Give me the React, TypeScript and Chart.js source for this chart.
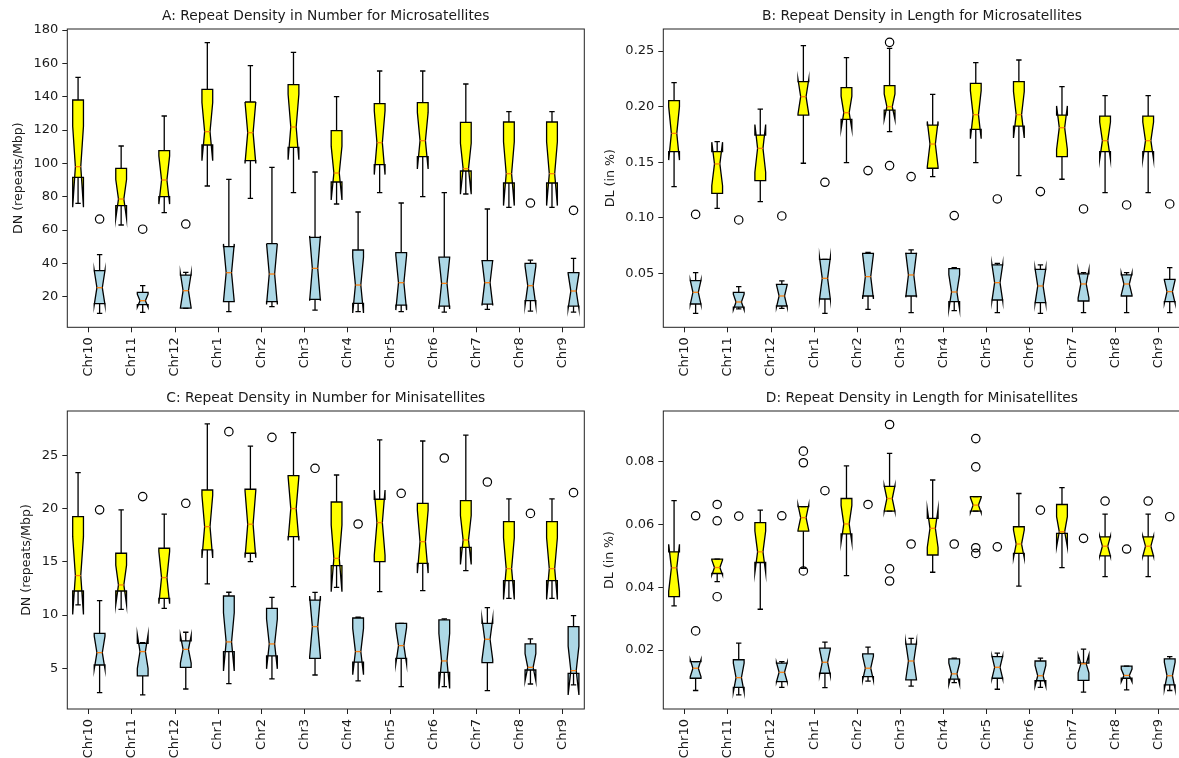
import React, { useEffect, useRef } from "react";
import { Chart, registerables } from "chart.js";

Chart.register(...registerables);

// ---------------------------------------------------------------------------
// Categories and shared settings
// ---------------------------------------------------------------------------
const CHROMOSOMES = ["Chr10", "Chr11", "Chr12", "Chr1", "Chr2", "Chr3", "Chr4", "Chr5", "Chr6", "Chr7", "Chr8", "Chr9"];
const SAMPLES_PER_BOX = 9; // genomes per chromosome, used for the notch width
const BOX_WIDTH = 0.25;
const GROUP_SHIFT = 0.25;
const FONT_FAMILY = "'DejaVu Sans', 'Liberation Sans', sans-serif";
const TEXT_COLOR = "#1a1a1a";
const YELLOW = "#ffff00";
const LIGHT_BLUE = "#add8e6";
const MEDIAN_COLOR = "#ff7f0e";

// ---------------------------------------------------------------------------
// A: repeat density in number, microsatellites (repeats/Mbp)
// ---------------------------------------------------------------------------
const A_TICKS = [20, 40, 60, 80, 100, 120, 140, 160, 180];
const A1_LO = [76, 63, 70.4, 86.4, 79, 82.4, 75.6, 82.4, 80, 81.6, 73.6, 73.6];
const A1_Q1 = [91.6, 74.6, 80, 111, 101.6, 109.6, 88.8, 99.2, 104, 95.4, 88.2, 88.2];
const A1_MED = [98, 78.6, 90, 119, 118.4, 121.8, 94.2, 112.4, 113.6, 96.8, 93.8, 93.8];
const A1_Q3 = [138, 97, 107.6, 144.4, 136.8, 147.2, 119.6, 135.8, 136.4, 124.6, 124.8, 124.8];
const A1_HI = [151.6, 110.4, 128.4, 172.4, 158.6, 166.6, 140, 155.4, 155.4, 147.6, 131, 131];
const A1_OUT: number[][] = [[], [], [], [], [], [], [], [], [], [], [], []];

const A2_LO = [10, 10.6, 13, 11, 14, 12, 11, 11, 10.8, 12.4, 11.4, 10.8];
const A2_Q1 = [15.8, 15.2, 13.2, 17, 17, 18.4, 16, 15, 14.4, 15.6, 17.6, 14.4];
const A2_MED = [25.4, 17.6, 23.6, 34.4, 33.6, 37, 27, 28.4, 28, 28.4, 26.6, 23.4];
const A2_Q3 = [35.6, 22.6, 33, 50, 51.8, 55.6, 48, 46.4, 43.8, 41.6, 40, 34.4];
const A2_HI = [45.3, 26.6, 34.6, 90.4, 97.6, 94.8, 70.8, 76.2, 82.4, 72.6, 42, 43];
const A2_OUT: number[][] = [[66.6], [60.5], [63.6], [], [], [], [], [], [], [], [76.2], [71.8]];

// ---------------------------------------------------------------------------
// B: repeat density in length, microsatellites (%)
// ---------------------------------------------------------------------------
const B_TICKS = [0.05, 0.1, 0.15, 0.2, 0.25];
const B1_LO = [0.128, 0.1085, 0.1145, 0.149, 0.1495, 0.1774, 0.137, 0.1496, 0.1379, 0.1346, 0.1226, 0.1226];
const B1_Q1 = [0.1594, 0.122, 0.1334, 0.1924, 0.1885, 0.1969, 0.1445, 0.1795, 0.1825, 0.155, 0.1594, 0.1594];
const B1_MED = [0.1759, 0.1484, 0.1624, 0.2089, 0.1945, 0.1999, 0.1663, 0.1927, 0.1927, 0.181, 0.1693, 0.1693];
const B1_Q3 = [0.2053, 0.1594, 0.1744, 0.2224, 0.217, 0.2188, 0.1834, 0.2209, 0.2224, 0.1924, 0.1915, 0.1915];
const B1_HI = [0.2215, 0.1684, 0.1978, 0.2548, 0.244, 0.2524, 0.211, 0.2395, 0.2419, 0.2179, 0.2098, 0.2098];
const B1_OUT: number[][] = [[], [], [], [], [], [0.2578, 0.1469], [], [], [], [], [], []];

const B2_LO = [0.014, 0.018, 0.0185, 0.014, 0.0176, 0.0146, 0.0164, 0.0146, 0.014, 0.0146, 0.0146, 0.0146];
const B2_Q1 = [0.0224, 0.0195, 0.0206, 0.0269, 0.0296, 0.0296, 0.0245, 0.026, 0.0236, 0.0251, 0.0296, 0.0245];
const B2_MED = [0.0329, 0.0242, 0.0296, 0.0455, 0.047, 0.0485, 0.0332, 0.0416, 0.0386, 0.0404, 0.0404, 0.0335];
const B2_Q3 = [0.0434, 0.0329, 0.0401, 0.0625, 0.068, 0.068, 0.0542, 0.0575, 0.0536, 0.0494, 0.0485, 0.0446];
const B2_HI = [0.0506, 0.038, 0.0431, 0.0625, 0.0689, 0.071, 0.0551, 0.059, 0.0575, 0.0506, 0.0506, 0.0551];
const B2_OUT: number[][] = [[0.103], [0.098], [0.1016], [0.1319], [0.1424], [0.137], [0.1019], [0.1169], [0.1235], [0.1079], [0.1115], [0.1124]];

// ---------------------------------------------------------------------------
// C: repeat density in number, minisatellites (repeats/Mbp)
// ---------------------------------------------------------------------------
const C_TICKS = [5, 10, 15, 20, 25];
const C1_LO = [10.96, 10.55, 10.64, 12.93, 15.03, 12.68, 12.61, 12.21, 12.3, 14.18, 11.58, 11.58];
const C1_Q1 = [12.27, 12.27, 11.58, 16.13, 15.82, 17.38, 14.65, 15.03, 14.87, 16.38, 13.25, 13.25];
const C1_MED = [13.72, 12.84, 13.53, 18.32, 18.55, 20.02, 15.34, 18.7, 16.91, 17.07, 14.37, 14.37];
const C1_Q3 = [19.27, 15.82, 16.29, 21.77, 21.84, 23.12, 20.64, 20.9, 20.52, 20.77, 18.8, 18.8];
const C1_HI = [23.4, 19.9, 19.5, 27.98, 25.9, 27.16, 23.18, 26.48, 26.38, 26.94, 20.93, 20.93];
const C1_OUT: number[][] = [[], [], [], [], [], [], [], [], [], [], [], []];

const C2_LO = [2.71, 2.5, 3.05, 3.55, 4.0, 4.37, 3.82, 3.28, 3.28, 2.9, 3.52, 3.43];
const C2_Q1 = [5.31, 4.28, 5.09, 6.57, 6.16, 5.94, 5.57, 5.94, 4.62, 5.53, 4.84, 4.53];
const C2_MED = [6.47, 6.57, 6.78, 7.48, 7.29, 8.92, 6.57, 7.13, 5.69, 7.73, 5.09, 4.78];
const C2_Q3 = [8.29, 7.35, 7.57, 11.8, 10.64, 11.42, 9.73, 9.23, 9.55, 9.23, 7.29, 8.92];
const C2_HI = [11.36, 7.4, 8.39, 12.15, 11.67, 12.14, 9.8, 9.23, 9.64, 10.7, 7.76, 9.95];
const C2_OUT: number[][] = [[19.9], [21.15], [20.52], [27.26], [26.72], [23.81], [18.57], [21.46], [24.78], [22.52], [19.57], [21.52]];

// ---------------------------------------------------------------------------
// D: repeat density in length, minisatellites (%)
// ---------------------------------------------------------------------------
const D_TICKS = [0.02, 0.04, 0.06, 0.08];
const D1_LO = [0.0341, 0.0418, 0.033, 0.046, 0.0437, 0.0643, 0.0448, 0.0643, 0.0404, 0.0463, 0.0434, 0.0434];
const D1_Q1 = [0.037, 0.0444, 0.0479, 0.0579, 0.057, 0.0643, 0.0503, 0.0643, 0.0508, 0.0572, 0.05, 0.05];
const D1_MED = [0.0462, 0.0463, 0.0513, 0.0622, 0.0602, 0.0683, 0.0588, 0.0662, 0.0538, 0.0577, 0.0531, 0.0531];
const D1_Q3 = [0.0513, 0.049, 0.0606, 0.0657, 0.0683, 0.0722, 0.062, 0.0689, 0.0593, 0.0664, 0.0561, 0.0561];
const D1_HI = [0.0676, 0.049, 0.0646, 0.0657, 0.0787, 0.0827, 0.0742, 0.0689, 0.0699, 0.0718, 0.0633, 0.0633];
const D1_OUT: number[][] = [[], [0.0664, 0.0612, 0.037], [], [0.0834, 0.0797, 0.0452], [], [0.0919, 0.0459, 0.042], [], [0.0874, 0.0784, 0.0526, 0.0508], [], [], [0.0675], [0.0675]];

const D2_LO = [0.0071, 0.0057, 0.0081, 0.008, 0.0101, 0.0085, 0.0096, 0.0075, 0.0081, 0.0066, 0.0073, 0.0071];
const D2_Q1 = [0.011, 0.0081, 0.0099, 0.0126, 0.0115, 0.0105, 0.0107, 0.011, 0.0102, 0.0103, 0.011, 0.0089];
const D2_MED = [0.0142, 0.0112, 0.0129, 0.0161, 0.0142, 0.0165, 0.0124, 0.0145, 0.0118, 0.0156, 0.0119, 0.0118];
const D2_Q3 = [0.0163, 0.0169, 0.0158, 0.0206, 0.0188, 0.0219, 0.0172, 0.0179, 0.0165, 0.0158, 0.0149, 0.0172];
const D2_HI = [0.0163, 0.0222, 0.0163, 0.0225, 0.0209, 0.0237, 0.0174, 0.019, 0.0174, 0.0203, 0.0149, 0.0179];
const D2_OUT: number[][] = [[0.0628, 0.0261], [0.0627], [0.0628], [0.0708], [0.0664], [0.0538], [0.0538], [0.0529], [0.0646], [0.0556], [0.0522], [0.0625]];

// ---------------------------------------------------------------------------
// Types and panel descriptions
// ---------------------------------------------------------------------------
type BoxSet = {
  lo: number[];
  q1: number[];
  med: number[];
  q3: number[];
  hi: number[];
  fliers: number[][];
  fill: string;
  shift: number;
};

type PanelSpec = {
  key: string;
  title: string;
  yTitle: string;
  yMin: number;
  yMax: number;
  yTicks: number[];
  decimals: number;
  sets: BoxSet[];
  frame: { left: number; top: number; width: number; height: number };
  area: { left: number; top: number; right: number; bottom: number };
  titlePad: { top: number; bottom: number };
  yTitlePad: number;
};

const makeSets = (
  lo1: number[], q11: number[], m1: number[], q31: number[], hi1: number[], o1: number[][],
  lo2: number[], q12: number[], m2: number[], q32: number[], hi2: number[], o2: number[][]
): BoxSet[] => [
  { lo: lo1, q1: q11, med: m1, q3: q31, hi: hi1, fliers: o1, fill: YELLOW, shift: -GROUP_SHIFT },
  { lo: lo2, q1: q12, med: m2, q3: q32, hi: hi2, fliers: o2, fill: LIGHT_BLUE, shift: GROUP_SHIFT },
];

const PANELS: PanelSpec[] = [
  {
    key: "A",
    title: "A: Repeat Density in Number for Microsatellites",
    yTitle: "DN (repeats/Mbp)",
    yMin: 1.64,
    yMax: 180.6,
    yTicks: A_TICKS,
    decimals: 0,
    sets: makeSets(A1_LO, A1_Q1, A1_MED, A1_Q3, A1_HI, A1_OUT, A2_LO, A2_Q1, A2_MED, A2_Q3, A2_HI, A2_OUT),
    frame: { left: 0, top: 0, width: 600, height: 400 },
    area: { left: 67.3, top: 29, right: 584.3, bottom: 327.3 },
    titlePad: { top: 7.7, bottom: 4.74 },
    yTitlePad: 11.3,
  },
  {
    key: "B",
    title: "B: Repeat Density in Length for Microsatellites",
    yTitle: "DL (in %)",
    yMin: 0.00142,
    yMax: 0.2698,
    yTicks: B_TICKS,
    decimals: 2,
    sets: makeSets(B1_LO, B1_Q1, B1_MED, B1_Q3, B1_HI, B1_OUT, B2_LO, B2_Q1, B2_MED, B2_Q3, B2_HI, B2_OUT),
    frame: { left: 590, top: 0, width: 610, height: 400 },
    area: { left: 73.3, top: 29, right: 590.5, bottom: 327.3 },
    titlePad: { top: 7.7, bottom: 4.74 },
    yTitlePad: 13.4,
  },
  {
    key: "C",
    title: "C: Repeat Density in Number for Minisatellites",
    yTitle: "DN (repeats/Mbp)",
    yMin: 1.17,
    yMax: 29.2,
    yTicks: C_TICKS,
    decimals: 0,
    sets: makeSets(C1_LO, C1_Q1, C1_MED, C1_Q3, C1_HI, C1_OUT, C2_LO, C2_Q1, C2_MED, C2_Q3, C2_HI, C2_OUT),
    frame: { left: 0, top: 380, width: 600, height: 430 },
    area: { left: 67.3, top: 31, right: 584.3, bottom: 329 },
    titlePad: { top: 10.0, bottom: 4.44 },
    yTitlePad: 19.4,
  },
  {
    key: "D",
    title: "D: Repeat Density in Length for Minisatellites",
    yTitle: "DL (in %)",
    yMin: 0.0012,
    yMax: 0.0962,
    yTicks: D_TICKS,
    decimals: 2,
    sets: makeSets(D1_LO, D1_Q1, D1_MED, D1_Q3, D1_HI, D1_OUT, D2_LO, D2_Q1, D2_MED, D2_Q3, D2_HI, D2_OUT),
    frame: { left: 590, top: 380, width: 610, height: 430 },
    area: { left: 73.3, top: 31, right: 590.5, bottom: 329 },
    titlePad: { top: 10.0, bottom: 4.44 },
    yTitlePad: 12.4,
  },
];

// ---------------------------------------------------------------------------
// Plugins: notched boxes (drawn below the flier points) and the axes frame
// ---------------------------------------------------------------------------
function notchedBoxPlugin(sets: BoxSet[]) {
  return {
    id: "notchedBoxes",
    beforeDatasetsDraw(chart: any) {
      const { ctx } = chart;
      const xs = chart.scales.x;
      const ys = chart.scales.y;
      const Y = (v: number) => ys.getPixelForValue(v);
      ctx.save();
      ctx.lineJoin = "miter";
      ctx.miterLimit = 16;
      ctx.lineCap = "butt";
      for (const s of sets) {
        s.med.forEach((m, i) => {
          const pos = i + 1 + s.shift;
          const q1 = s.q1[i];
          const q3 = s.q3[i];
          const half = (1.57 * (q3 - q1)) / Math.sqrt(SAMPLES_PER_BOX);
          const ciLo = m - half;
          const ciHi = m + half;
          const L = xs.getPixelForValue(pos - BOX_WIDTH / 2);
          const R = xs.getPixelForValue(pos + BOX_WIDTH / 2);
          const nL = xs.getPixelForValue(pos - BOX_WIDTH / 4);
          const nR = xs.getPixelForValue(pos + BOX_WIDTH / 4);
          const cx = xs.getPixelForValue(pos);

          const outline: [number, number][] = [
            [L, q1], [R, q1], [R, ciLo], [nR, m], [R, ciHi], [R, q3],
            [L, q3], [L, ciHi], [nL, m], [L, ciLo], [L, q1],
          ];
          ctx.beginPath();
          outline.forEach(([px, v], k) => (k ? ctx.lineTo(px, Y(v)) : ctx.moveTo(px, Y(v))));
          ctx.closePath();
          ctx.fillStyle = s.fill;
          ctx.fill();
          ctx.lineWidth = 1.3;
          ctx.strokeStyle = "#000";
          ctx.stroke();

          // whiskers and caps
          ctx.beginPath();
          ctx.moveTo(cx, Y(q1));
          ctx.lineTo(cx, Y(s.lo[i]));
          ctx.moveTo(cx, Y(q3));
          ctx.lineTo(cx, Y(s.hi[i]));
          ctx.moveTo(nL, Y(s.lo[i]));
          ctx.lineTo(nR, Y(s.lo[i]));
          ctx.moveTo(nL, Y(s.hi[i]));
          ctx.lineTo(nR, Y(s.hi[i]));
          ctx.stroke();

          // median
          ctx.beginPath();
          ctx.moveTo(nL, Y(m));
          ctx.lineTo(nR, Y(m));
          ctx.strokeStyle = MEDIAN_COLOR;
          ctx.stroke();
        });
      }
      ctx.restore();
    },
  };
}

const framePlugin = {
  id: "axesFrame",
  afterDraw(chart: any) {
    const { ctx, chartArea } = chart;
    ctx.save();
    ctx.strokeStyle = "#222";
    ctx.lineWidth = 1;
    ctx.strokeRect(chartArea.left, chartArea.top, chartArea.right - chartArea.left, chartArea.bottom - chartArea.top);
    ctx.restore();
  },
};

// ---------------------------------------------------------------------------
// Chart configuration
// ---------------------------------------------------------------------------
function buildConfig(p: PanelSpec): any {
  const tickFont = { family: FONT_FAMILY, size: 13 };
  const datasets = p.sets.map((s) => ({
    type: "scatter",
    data: s.fliers.flatMap((vals, i) => vals.map((v) => ({ x: i + 1 + s.shift, y: v }))),
    pointStyle: "circle",
    pointRadius: 4.2,
    pointBorderWidth: 1.2,
    pointBorderColor: "#000",
    pointBackgroundColor: "rgba(0,0,0,0)",
    showLine: false,
  }));
  const yAxisWidth = p.area.left;
  const xAxisHeight = p.frame.height - p.area.bottom;
  const padRight = p.frame.width - p.area.right;

  return {
    type: "scatter",
    data: { datasets },
    plugins: [notchedBoxPlugin(p.sets), framePlugin],
    options: {
      responsive: false,
      maintainAspectRatio: false,
      animation: false,
      devicePixelRatio: 1,
      events: [],
      layout: { padding: { left: 0, top: 0, right: padRight, bottom: 0 } },
      plugins: {
        legend: { display: false },
        tooltip: { enabled: false },
        title: {
          display: true,
          text: p.title,
          fullSize: false,
          color: TEXT_COLOR,
          font: { family: FONT_FAMILY, size: 13.8, weight: "normal" },
          padding: p.titlePad,
        },
      },
      scales: {
        x: {
          type: "linear",
          min: 0.5,
          max: 12.5,
          afterBuildTicks: (scale: any) => {
            scale.ticks = CHROMOSOMES.map((_, i) => ({ value: i + 1 }));
          },
          afterFit: (scale: any) => {
            scale.height = xAxisHeight;
          },
          border: { display: false },
          grid: { drawOnChartArea: false, drawTicks: true, tickLength: 5, tickColor: "#222", tickWidth: 1 },
          ticks: {
            autoSkip: false,
            minRotation: 90,
            maxRotation: 90,
            padding: 5,
            color: TEXT_COLOR,
            font: tickFont,
            callback: (v: number) => CHROMOSOMES[Math.round(v) - 1],
          },
        },
        y: {
          type: "linear",
          min: p.yMin,
          max: p.yMax,
          afterBuildTicks: (scale: any) => {
            scale.ticks = p.yTicks.map((v) => ({ value: v }));
          },
          afterFit: (scale: any) => {
            scale.width = yAxisWidth;
          },
          border: { display: false },
          grid: { drawOnChartArea: false, drawTicks: true, tickLength: 5, tickColor: "#222", tickWidth: 1 },
          title: {
            display: true,
            text: p.yTitle,
            color: TEXT_COLOR,
            font: { family: FONT_FAMILY, size: 12.6 },
            padding: { top: p.yTitlePad, bottom: 0 },
          },
          ticks: {
            padding: 4,
            color: TEXT_COLOR,
            font: tickFont,
            callback: (v: number) => Number(v).toFixed(p.decimals),
          },
        },
      },
    },
  };
}

function Panel({ spec }: { spec: PanelSpec }) {
  const ref = useRef<HTMLCanvasElement | null>(null);
  useEffect(() => {
    if (!ref.current) return;
    const chart = new Chart(ref.current, buildConfig(spec));
    return () => chart.destroy();
  }, [spec]);
  const { left, top, width, height } = spec.frame;
  return (
    <canvas
      ref={ref}
      width={width}
      height={height}
      style={{ position: "absolute", left, top, width, height, display: "block" }}
    />
  );
}

export default function App() {
  return (
    <div
      style={{
        position: "fixed",
        left: 0,
        top: 0,
        width: 1179,
        height: 758,
        overflow: "hidden",
        background: "#fff",
      }}
    >
      {PANELS.map((p) => (
        <Panel key={p.key} spec={p} />
      ))}
    </div>
  );
}
